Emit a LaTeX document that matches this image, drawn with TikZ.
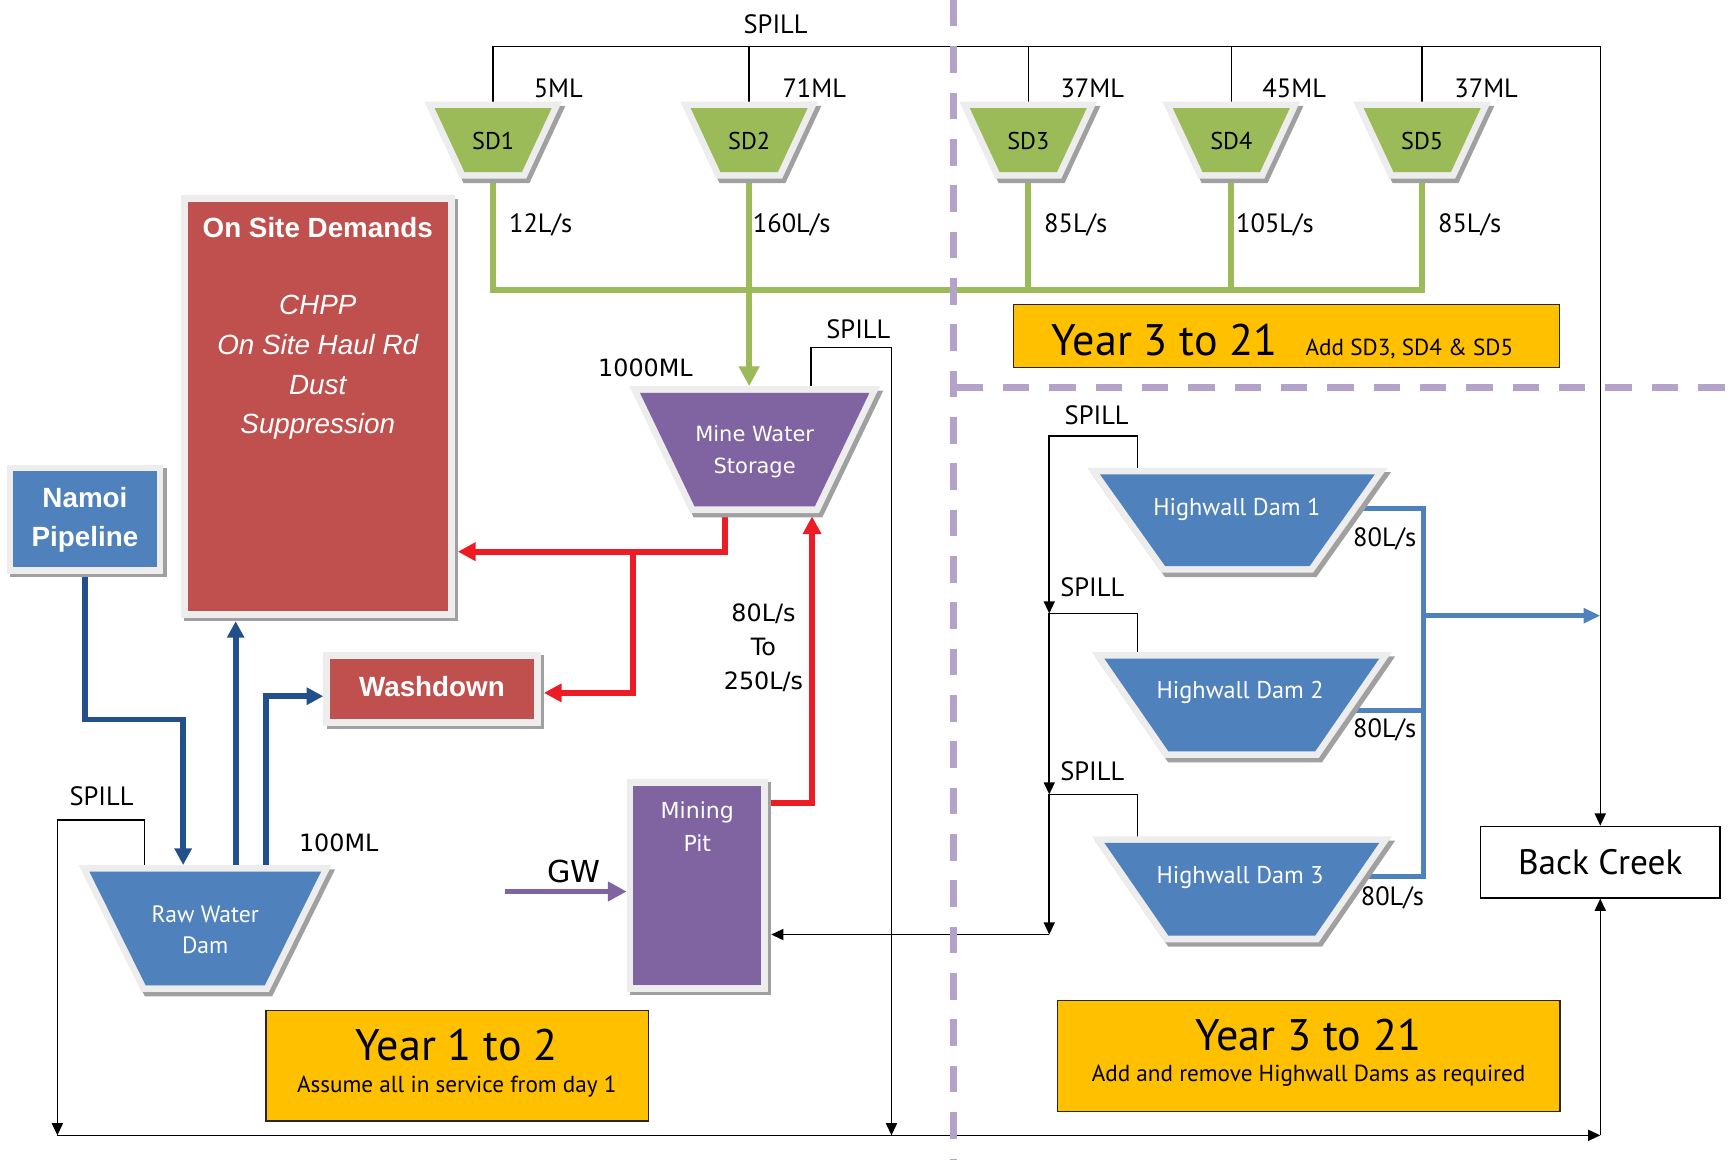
\documentclass[tikz,border=0pt]{standalone}
\usepackage{fontspec}
\setmainfont{PT Sans}
\newfontfamily\arialf{Liberation Sans}
\newfontfamily\widef{DejaVu Sans}
\usetikzlibrary{arrows.meta,calc}
\definecolor{sdgreen}{HTML}{9BBB59}
\definecolor{boxblue}{HTML}{4F81BD}
\definecolor{boxred}{HTML}{C0504D}
\definecolor{boxpurple}{HTML}{8064A2}
\definecolor{darkblue}{HTML}{23508A}
\definecolor{arrred}{HTML}{ED1C24}
\definecolor{yel}{HTML}{FFC000}
\definecolor{lav}{HTML}{B4A2CB}
\definecolor{bevel}{HTML}{EDEDED}
\definecolor{shad}{HTML}{A0A0A0}
\pgfdeclarelayer{back}
\pgfdeclarelayer{conn}
\pgfsetlayers{back,conn,main}
% box with bevel and shadow: name, cx, cy, w, h, colour
\newcommand\bevbox[6]{%
  \fill[shad] ({#2-#4/2-3},{#3-#5/2-3}) rectangle ({#2+#4/2+9},{#3+#5/2+9});
  \fill[bevel] ({#2-#4/2-6},{#3-#5/2-6}) rectangle ({#2+#4/2+6},{#3+#5/2+6});
  \node[fill=#6, inner sep=0pt, outer sep=0pt, minimum width=#4*0.5pt, minimum height=#5*0.5pt] (#1) at (#2,#3) {};
}
% inverted trapezium: name, cx, cy, top width, bottom width, height, colour
\newcommand\bevtrap[7]{%
  \filldraw[shad, line width=6pt, line join=miter, shift={(3,4)}] ({#2-#4/2},{#3-#6/2}) -- ({#2+#4/2},{#3-#6/2}) -- ({#2+#5/2},{#3+#6/2}) -- ({#2-#5/2},{#3+#6/2}) -- cycle;
  \filldraw[bevel, line width=6pt, line join=miter] ({#2-#4/2},{#3-#6/2}) -- ({#2+#4/2},{#3-#6/2}) -- ({#2+#5/2},{#3+#6/2}) -- ({#2-#5/2},{#3+#6/2}) -- cycle;
  \fill[#7] ({#2-#4/2},{#3-#6/2}) -- ({#2+#4/2},{#3-#6/2}) -- ({#2+#5/2},{#3+#6/2}) -- ({#2-#5/2},{#3+#6/2}) -- cycle;
  \node[inner sep=0pt, outer sep=0pt, minimum width=#4*0.5pt, minimum height=#6*0.5pt] (#1) at (#2,#3) {};
}
\begin{document}
\begin{tikzpicture}[x=0.5pt,y=-0.5pt, line join=miter,
  spillline/.style={draw=black, line width=0.7pt},
  spillarrow/.style={spillline, -{Triangle[length=5.5pt,width=5pt]}},
  greenline/.style={draw=sdgreen, line width=2.6pt},
  greenarrow/.style={greenline, -{Triangle[length=9pt,width=9pt]}},
  redarrow/.style={draw=arrred, line width=2.6pt, -{Triangle[length=8pt,width=8pt]}},
  dbarrow/.style={draw=darkblue, line width=2.6pt, -{Triangle[length=7.5pt,width=7.5pt]}},
  outlet/.style={draw=boxblue, line width=2.3pt},
  outletarrow/.style={outlet, -{Triangle[length=7.5pt,width=6.5pt]}},
  gwarrow/.style={draw=boxpurple, line width=2.5pt, -{Triangle[length=8.5pt,width=8.5pt]}},
  divider/.style={draw=lav, line width=3pt, dash pattern=on 12pt off 9pt},
  lbl/.style={font=\fontsize{12}{14}\selectfont, inner sep=0pt},
  wlbl/.style={font=\widef\fontsize{10.8}{15.5}\selectfont, inner sep=0pt, align=center},
  sdtext/.style={font=\fontsize{11}{13}\selectfont, text=black, inner sep=0pt},
  mwstext/.style={font=\widef\fontsize{9.5}{14.5}\selectfont, text=white, align=center, inner sep=0pt},
  rwdtext/.style={font=\fontsize{10.7}{14}\selectfont, text=white, align=center, inner sep=0pt},
  hwtext/.style={font=\fontsize{11}{13}\selectfont, text=white, inner sep=0pt},
  boldtext/.style={font=\arialf\bfseries\fontsize{12.6}{17.5}\selectfont, text=white, align=center, inner sep=0pt},
  itext/.style={font=\arialf\itshape\fontsize{12.6}{18}\selectfont, text=white, align=center, inner sep=0pt},
  yearbox/.style={fill=yel, draw=black!85, line width=0.6pt, inner sep=0pt},
  bigyear/.style={font=\fontsize{20}{24}\selectfont, inner sep=0pt},
  smallyear/.style={font=\fontsize{10.5}{12}\selectfont, inner sep=0pt},
]
\begin{pgfonlayer}{back}
\fill[white] (0,0) rectangle (1568,1051);
\end{pgfonlayer}
\useasboundingbox (0,0) rectangle (1568,1051);

% ---------- shapes ----------
\bevtrap{sd1}{447}{127}{106}{52}{58}{sdgreen}
\bevtrap{sd2}{679}{127}{106}{52}{58}{sdgreen}
\bevtrap{sd3}{932}{127}{106}{52}{58}{sdgreen}
\bevtrap{sd4}{1116}{127}{106}{52}{58}{sdgreen}
\bevtrap{sd5}{1289}{127}{106}{52}{58}{sdgreen}
\bevtrap{mws}{684}{407.5}{208}{109}{103}{boxpurple}
\bevtrap{rwd}{186}{841.5}{210}{108}{103}{boxblue}
\bevtrap{hw1}{1121.5}{471.5}{249}{131}{83}{boxblue}
\bevtrap{hw2}{1125.5}{639}{249}{133}{84}{boxblue}
\bevtrap{hw3}{1125.5}{806}{249}{133}{84}{boxblue}
\bevbox{osd}{288}{368.5}{236}{371}{boxred}
\bevbox{namoi}{77}{470.5}{130}{87}{boxblue}
\bevbox{wd}{391.5}{624.5}{185}{55}{boxred}
\bevbox{mp}{632}{802.5}{116}{181}{boxpurple}

\node[draw=black, line width=0.7pt, fill=white, inner sep=0pt, minimum width=108.6pt, minimum height=32.4pt, font=\fontsize{16}{19}\selectfont] (bc) at (1450.4,781.4) {Back Creek};
\node[yearbox, minimum width=173.25pt, minimum height=50pt] (y12) at (414.25,966) {};
\node[yearbox, minimum width=227.65pt, minimum height=50.3pt] (y321) at (1186.35,957.3) {};
\node[yearbox, minimum width=247.3pt, minimum height=28.5pt] (y321top) at (1166,304.5) {};

% ---------- coordinates ----------
\coordinate (tr) at (1450.4,42);
\coordinate (gl) at (0,263);
\coordinate (rj) at (574,500);
\coordinate (rwy) at (0,628);
\coordinate (rmy) at (0,728);
\coordinate (nbend) at (166,652);
\coordinate (wdy) at (0,631);
\coordinate (rsp) at (52,743);
\coordinate (bl) at (52,1029);
\coordinate (br) at (1450.4,1029);
\coordinate (msp) at (808,315);
\coordinate (mspe) at (808,1029);
\coordinate (gw0) at (458,808);
\coordinate (s0) at (951,395);
\coordinate (s1) at (951,556);
\coordinate (s2) at (951,720);
\coordinate (s3) at (951,847);
\coordinate (o1) at (1226,461);
\coordinate (o2) at (1228,644);
\coordinate (o3) at (1231,794);
\coordinate (oj) at (1290,794);
\coordinate (oa) at (1290,558);
\coordinate (mred1) at ($(mws.south)+(-27,0)$);
\coordinate (mred2) at ($(mws.south)+(52,0)$);
\coordinate (mspl) at ($(mws.north)+(51,0)$);
\coordinate (rw1) at ($(rwd.north)+(-20,0)$);
\coordinate (rw2) at ($(rwd.north)+(27.6,0)$);
\coordinate (rw3) at ($(rwd.north)+(55,0)$);
\coordinate (rwsp) at ($(rwd.north)+(-55,0)$);
\coordinate (h1sp) at ($(hw1.north)+(-90.5,0)$);
\coordinate (h2sp) at ($(hw2.north)+(-94.5,0)$);
\coordinate (h3sp) at ($(hw3.north)+(-94.5,0)$);

% ---------- connectors ----------
\begin{pgfonlayer}{conn}
% spill from sediment dams
\draw[spillarrow] (sd1.north) |- (tr) -- (bc.north);
\foreach \n in {sd2,sd3,sd4,sd5} \draw[spillline] (\n.north) -- (\n.north |- tr);
% green
\draw[greenline] (sd1.south) |- (sd5.south |- gl) -- (sd5.south);
\foreach \n in {sd2,sd3,sd4} \draw[greenline] (\n.south) -- (\n.south |- gl);
\draw[greenarrow, shorten >=3pt] (sd2.south |- gl) -- (sd2.south |- mws.north);
% red
\draw[redarrow, shorten >=4.5pt] (mred1) |- (osd.east |- rj);
\draw[redarrow, shorten >=4.5pt] (rj) |- (wd.east |- rwy);
\draw[redarrow, shorten >=4.5pt] (mp.east |- rmy) -| (mred2);
% mine water storage spill
\draw[spillarrow] (mspl) |- (msp) -- (mspe);
% dark blue
\draw[dbarrow, shorten >=3pt] (namoi.south) |- (nbend) -- (nbend |- rwd.north);
\draw[dbarrow, shorten >=4.5pt] (rw2) -- (rw2 |- osd.south);
\draw[dbarrow, shorten >=3pt] (rw3) |- (wd.west |- wdy);
% raw water dam spill and bottom line
\draw[spillarrow] (rwsp) |- (rsp) -- (bl);
\draw[spillarrow] (bl) -- (br);
\draw[spillarrow] (br) -- (bc.south);
% GW
\draw[gwarrow, shorten >=3pt] (gw0) -- (mp.west |- gw0);
% highwall spills
\draw[spillarrow] (h1sp) |- (s0) -- (s1);
\draw[spillarrow] (h2sp) |- (s1) -- (s2);
\draw[spillarrow] (h3sp) |- (s2) -- (s3);
\draw[spillarrow, shorten >=4.5pt] (s3) -- (mp.east |- s3);
% highwall outlets
\draw[outlet] (o1) -| (oj) -- (o3);
\draw[outlet] (o2) -- (o2 -| oj);
\draw[outletarrow] (oa) -- (oa -| tr);
\end{pgfonlayer}

% ---------- dividers ----------
\draw[divider] (864,0) -- (864,1051);
\draw[divider] (867,351) -- (1568,351);

% ---------- texts ----------
\node[sdtext] (sd1t) at (447,128) {SD1};
\node[sdtext] (sd2t) at (679,128) {SD2};
\node[sdtext] (sd3t) at (932,128) {SD3};
\node[sdtext] (sd4t) at (1116,128) {SD4};
\node[sdtext] (sd5t) at (1289,128) {SD5};
\node[mwstext] (mwst) at (684,409) {Mine Water\\Storage};
\node[rwdtext] (rwdt) at (186,843) {Raw Water\\Dam};
\node[hwtext] (hw1t) at (1121,462) {Highwall Dam 1};
\node[hwtext] (hw2t) at (1124,628) {Highwall Dam 2};
\node[hwtext] (hw3t) at (1124,795) {Highwall Dam 3};
\node[boldtext] (osdt) at (288,206) {On Site Demands};
\node[itext] (osdi) at (288,333) {CHPP\\On Site Haul Rd\\Dust\\Suppression};
\node[boldtext] (namoit) at (77,471) {Namoi\\Pipeline};
\node[boldtext] (wdt) at (391.5,622) {Washdown};
\node[font=\widef\fontsize{10}{15}\selectfont, text=white, align=center, inner sep=0pt] (mpt) at (632,749) {Mining\\Pit};

\node[lbl] (spill1) at (703,22) {SPILL};
\node[lbl] (ml1) at (506,80) {5ML};
\node[lbl] (ml2) at (738,80) {71ML};
\node[lbl] (ml3) at (990,80) {37ML};
\node[lbl] (ml4) at (1173,80) {45ML};
\node[lbl] (ml5) at (1347,80) {37ML};
\node[lbl, anchor=west] (f1) at (461,204) {12L/s};
\node[lbl, anchor=west] (f2) at (682,204) {160L/s};
\node[lbl, anchor=west] (f3) at (946,204) {85L/s};
\node[lbl, anchor=west] (f4) at (1120,204) {105L/s};
\node[lbl, anchor=west] (f5) at (1303,204) {85L/s};
\node[lbl] (spill2) at (778,298) {SPILL};
\node[wlbl] (ml6) at (585,333) {1000ML};
\node[wlbl] (rate) at (692,587) {80L/s\\To\\250L/s};
\node[wlbl] (ml7) at (307,764) {100ML};
\node[lbl] (spill3) at (92,722) {SPILL};
\node[font=\widef\fontsize{13.7}{16}\selectfont, inner sep=0pt] (gwt) at (520,790) {GW};
\node[lbl] (spill4) at (994,376) {SPILL};
\node[lbl] (spill5) at (990,532) {SPILL};
\node[lbl] (spill6) at (990,699) {SPILL};
\node[lbl] (r1) at (1255,488) {80L/s};
\node[lbl] (r2) at (1255,662) {80L/s};
\node[lbl] (r3) at (1262,814) {80L/s};

\node[bigyear, anchor=base west] (y3a) at (953,322) {Year 3 to 21};
\node[smallyear, anchor=base west] (y3b) at (1183,322) {Add SD3, SD4 \& SD5};
\node[bigyear] (y12a) at (414,947) {Year 1 to 2};
\node[smallyear] (y12b) at (414,985) {Assume all in service from day 1};
\node[bigyear] (y321a) at (1186,938) {Year 3 to 21};
\node[smallyear] (y321b) at (1186,975) {Add and remove Highwall Dams as required};
\end{tikzpicture}
\end{document}
